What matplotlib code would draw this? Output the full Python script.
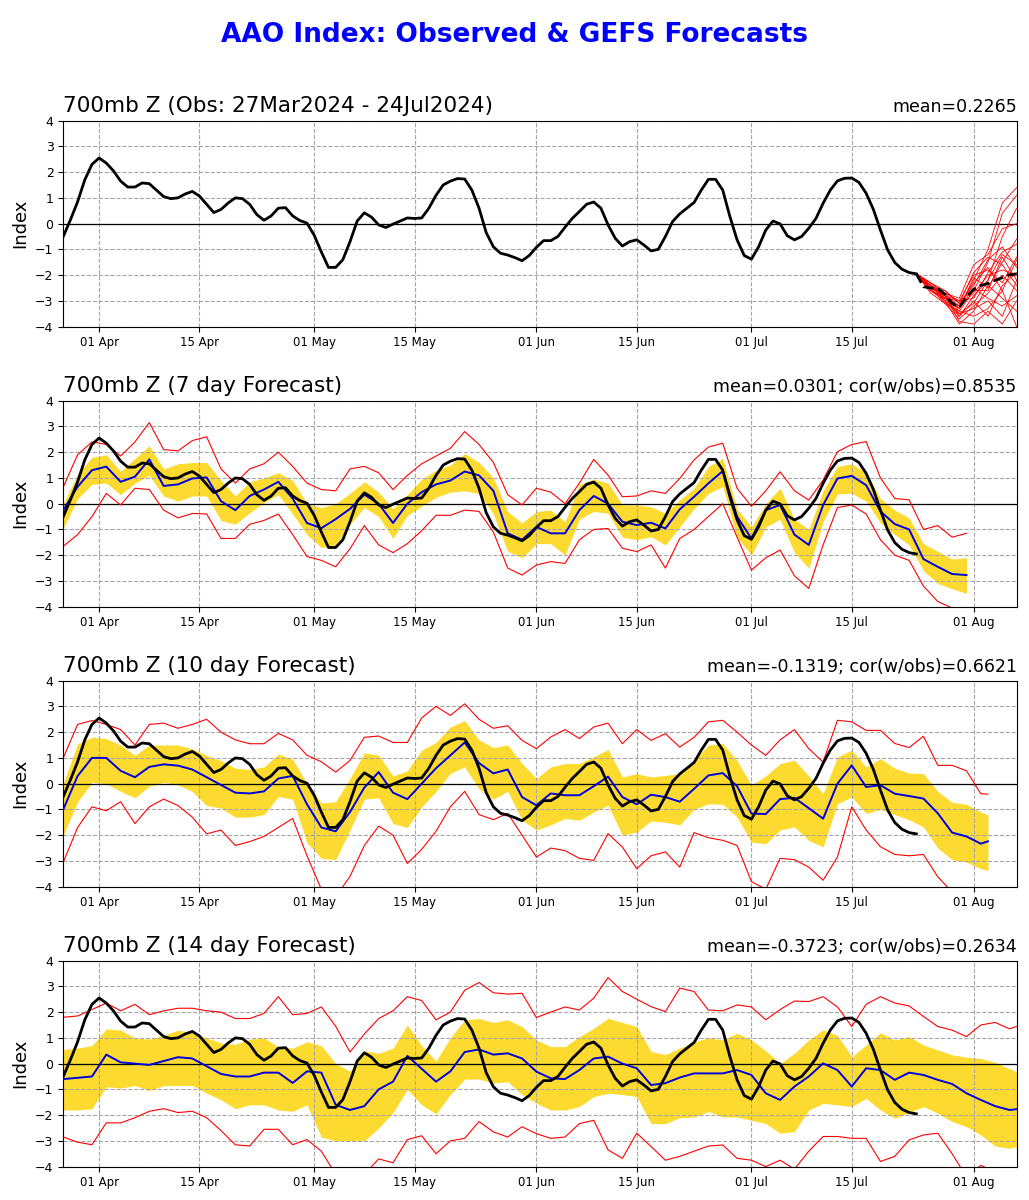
"""
AAO index: observed values and GEFS forecasts.
"""
import numpy as np
import matplotlib
matplotlib.use("Agg")
import matplotlib.pyplot as plt
import matplotlib.dates as mdates

START = np.datetime64("2024-03-27")
LAST_DAY = 133

# observed index, one value per day from 27 Mar to 24 Jul
obs = [-0.5, 0.15, 0.85, 1.7, 2.3, 2.55, 2.35, 2.05, 1.65, 1.42,
       1.42, 1.58, 1.55, 1.3, 1.05, 0.97, 1.0, 1.15, 1.25, 1.07,
       0.75, 0.43, 0.55, 0.8, 1.0, 0.97, 0.75, 0.35, 0.13, 0.3,
       0.6, 0.62, 0.3, 0.12, 0.02, -0.45, -1.1, -1.7, -1.7, -1.4,
       -0.7, 0.1, 0.42, 0.25, -0.05, -0.15, -0.02, 0.1, 0.22, 0.2,
       0.22, 0.6, 1.1, 1.5, 1.65, 1.75, 1.73, 1.3, 0.6, -0.35,
       -0.9, -1.15, -1.22, -1.32, -1.44, -1.24, -0.92, -0.66, -0.66, -0.5,
       -0.14, 0.2, 0.47, 0.75, 0.84, 0.6, -0.05, -0.57, -0.87, -0.7,
       -0.63, -0.83, -1.06, -1.0, -0.5, 0.08, 0.38, 0.6, 0.82, 1.3,
       1.72, 1.72, 1.3, 0.27, -0.63, -1.24, -1.38, -0.9, -0.25, 0.1,
       -0.01, -0.47, -0.63, -0.5, -0.18, 0.2, 0.79, 1.3, 1.66, 1.76,
       1.77, 1.6, 1.18, 0.56, -0.25, -1.02, -1.51, -1.77, -1.9, -1.95]

# GEFS ensemble from 24 Jul (every second day) and its mean (daily)
ens_days = [119, 121, 123, 125, 127, 129, 131, 133]
ens_members = [
    [-1.95, -2.4, -2.9, -3.2, -2.2, -1.0, 0.8, 1.4],
    [-1.95, -2.5, -2.8, -3.4, -2.6, -1.5, 0.4, 1.1],
    [-1.95, -2.3, -2.7, -2.9, -1.6, -1.2, -0.2, 0.0],
    [-1.95, -2.6, -3.0, -3.6, -2.8, -2.2, -1.2, -1.6],
    [-1.95, -2.4, -2.8, -3.0, -2.0, -1.8, -2.3, -1.3],
    [-1.95, -2.5, -3.1, -3.7, -3.2, -2.7, -2.0, -2.6],
    [-1.95, -2.3, -2.6, -3.1, -2.4, -1.4, -0.9, -1.7],
    [-1.95, -2.6, -2.9, -3.5, -3.3, -3.0, -3.6, -2.2],
    [-1.95, -2.5, -2.7, -3.3, -2.1, -2.5, -1.5, -0.6],
    [-1.95, -2.4, -3.0, -3.9, -3.4, -2.4, -2.9, -3.4],
    [-1.95, -2.5, -2.8, -3.2, -2.7, -2.0, -1.8, -2.0],
    [-1.95, -2.7, -3.1, -3.4, -3.6, -3.3, -2.6, -4.0],
    [-1.95, -2.4, -2.9, -3.0, -2.9, -1.9, -1.1, -0.8],
    [-1.95, -2.3, -2.8, -3.6, -3.0, -3.6, -2.4, -1.9],
    [-1.95, -2.6, -2.9, -3.3, -2.5, -2.9, -3.2, -2.8],
    [-1.95, -2.5, -2.6, -3.1, -1.9, -1.3, -1.6, -2.4],
    [-1.95, -2.4, -3.0, -3.5, -3.1, -2.2, -0.5, 0.6],
    [-1.95, -2.5, -2.8, -3.8, -3.9, -3.4, -3.9, -3.0],
    [-1.95, -2.6, -2.9, -3.2, -2.3, -1.7, -2.6, -1.4],
    [-1.95, -2.4, -2.7, -3.0, -2.6, -2.6, -1.3, -2.2],
]
ens_mean = [-1.95, -2.45, -2.5, -2.51, -2.75, -3.1, -3.25, -2.85,
            -2.55, -2.4, -2.33, -2.2, -2.1, -1.99, -1.95]

# 7 day forecasts, every second day from 27 Mar to 31 Jul
mean7 = [-0.25, 0.66, 1.3, 1.44, 0.85, 1.05, 1.72, 0.69, 0.75, 0.98, 1.02, 0.1,
         -0.25, 0.3, 0.55, 0.85, 0.2, -0.75, -0.95, -0.6, -0.2, 0.35, 0.0, -0.75,
         0.0, 0.45, 0.75, 0.9, 1.25, 1.1, 0.5, -1.15,
         -1.4, -0.9, -1.15, -1.15, -0.25, 0.3, 0.0, -0.7, -0.83, -0.74, -0.96, -0.22,
         0.27, 0.79, 1.27, -0.5, -1.35, -0.25, -0.05, -1.2, -1.6, -0.05, 0.98, 1.08,
         0.72, -0.3, -0.79, -1.0, -2.15, -2.45, -2.73, -2.77]
upper7 = [0.0, 1.15, 1.8, 1.9, 1.25, 1.75, 2.25, 1.35, 1.55, 1.6, 1.6, 0.9,
          0.3, 0.85, 1.0, 1.2, 0.9, 0.0, -0.15, 0.0, 0.4, 0.85, 0.45, -0.2,
          0.35, 0.95, 1.3, 1.5, 1.95, 1.6, 1.0, -0.3,
          -0.75, -0.3, -0.25, -0.7, 0.75, 0.95, 0.8, -0.05, -0.05, -0.12, -0.37, 0.15,
          0.6, 1.44, 1.76, -0.2, -0.9, 0.0, 0.6, -0.6, -1.0, 0.5, 1.45, 1.55,
          1.2, 0.2, -0.25, -0.55, -1.55, -1.85, -2.15, -2.1]
lower7 = [-0.95, 0.2, 0.75, 0.8, 0.35, 0.8, 1.1, 0.3, 0.1, 0.3, 0.3, -0.65,
          -0.8, -0.35, 0.05, 0.35, -0.4, -1.2, -1.7, -1.6, -0.8, -0.15, -0.5, -1.35,
          -0.45, -0.1, 0.25, 0.45, 0.5, 0.4, -0.4, -1.85,
          -2.1, -1.55, -1.55, -2.0, -0.6, -0.3, -0.37, -1.3, -1.4, -1.28, -1.6, -0.9,
          -0.2, 0.4, 0.66, -1.3, -2.0, -0.9, -0.6, -1.9, -2.5, -0.7, 0.38, 0.4,
          0.1, -0.75, -1.2, -1.6, -2.6, -3.1, -3.3, -3.48]
max7 = [0.65, 1.9, 2.4, 2.3, 1.85, 2.4, 3.15, 2.1, 2.05, 2.45, 2.6, 1.35,
        0.8, 1.35, 1.55, 2.0, 1.45, 0.8, 0.55, 0.5, 1.35, 1.45, 1.2, 0.55,
        1.1, 1.55, 1.85, 2.15, 2.8, 2.3, 1.6, 0.35,
        -0.05, 0.6, 0.45, 0.0, 0.8, 1.72, 1.11, 0.27, 0.3, 0.5, 0.4, 0.98,
        1.7, 2.2, 2.35, 0.6, -0.1, 0.5, 1.24, 0.5, 0.14, 0.92, 2.02, 2.3,
        2.41, 1.0, 0.2, 0.15, -1.0, -0.85, -1.3, -1.15]
min7 = [-1.65, -1.2, -0.5, 0.4, -0.05, 0.6, 0.55, -0.25, -0.55, -0.38, -0.4, -1.35,
        -1.35, -0.8, -0.65, -0.4, -1.2, -2.05, -2.2, -2.45, -1.75, -0.85, -1.6, -1.9,
        -1.55, -1.05, -0.45, -0.45, -0.25, -0.3, -1.1, -2.5,
        -2.77, -2.38, -2.25, -2.32, -1.4, -1.0, -0.96, -1.73, -1.86, -1.6, -2.5, -1.35,
        -1.0, -0.5, 0.0, -1.3, -2.58, -2.1, -1.8, -2.8, -3.29, -1.6, -0.15, -0.05,
        -0.4, -1.4, -2.0, -2.2, -3.2, -3.8, -4.05, -4.3]

# 10 day forecasts, every second day from 27 Mar, last one 03 Aug
mean10 = [-1.0, 0.3, 1.0, 1.0, 0.5, 0.25, 0.65, 0.75, 0.7, 0.55, 0.25, -0.05,
          -0.35, -0.38, -0.3, 0.2, 0.3, -0.8, -1.7, -1.85, -1.1, -0.15, 0.45, -0.35,
          -0.6, 0.0, 0.6, 1.1, 1.6, 0.8, 0.4, 0.55,
          -0.52, -0.84, -0.38, -0.45, -0.45, -0.1, 0.27, -0.52, -0.8, -0.43, -0.52, -0.7,
          -0.2, 0.32, 0.41, -0.1, -1.16, -1.18, -0.6, -0.55, -0.95, -1.36, 0.0, 0.71,
          -0.13, -0.06, -0.39, -0.48, -0.58, -1.15, -1.9, -2.05, -2.33, -2.24]
upper10 = [0.0, 1.55, 1.8, 1.75, 1.5, 1.1, 1.5, 1.5, 1.5, 1.35, 1.1, 0.9,
           0.6, 0.55, 0.65, 1.15, 0.95, 0.0, -0.75, -0.7, 0.2, 1.2, 1.1, 0.3,
           0.5, 1.3, 1.6, 2.2, 2.45, 1.7, 1.4, 1.5,
           0.78, 0.2, 0.65, 0.78, 0.78, 1.04, 1.33, 0.26, 0.39, 0.26, 0.32, 0.39,
           0.91, 1.5, 1.56, 0.9, -0.06, 0.3, 0.78, 0.91, 0.3, -0.39, 1.04, 1.3,
           0.65, 0.97, 0.6, 0.41, 0.39, -0.3, -0.73, -0.8, -1.1, -1.22]
lower10 = [-2.0, -0.7, 0.05, 0.0, -0.3, -0.55, -0.1, 0.05, -0.05, -0.3, -0.85, -0.95,
           -1.3, -1.3, -1.2, -0.5, -0.6, -2.3, -2.9, -2.95, -1.8, -0.6, -0.55, -1.55,
           -1.7, -0.9, -0.3, 0.4, 0.65, -0.2, -0.6, -0.3,
           -1.42, -1.8, -1.6, -1.35, -1.42, -1.1, -0.84, -2.0, -1.88, -1.45, -1.5, -1.6,
           -1.0, -0.78, -0.8, -1.3, -2.27, -2.33, -1.8, -1.68, -2.2, -2.46, -0.78, -0.52,
           -1.16, -1.0, -1.2, -1.4, -1.68, -2.5, -2.95, -3.05, -3.3, -3.37]
max10 = [1.0, 2.3, 2.45, 2.3, 2.1, 1.5, 2.3, 2.35, 2.15, 2.3, 2.5, 2.0,
         1.7, 1.55, 1.55, 1.95, 1.7, 1.1, 0.85, 0.45, 0.9, 1.8, 1.85, 1.6,
         1.6, 2.55, 3.0, 2.65, 3.1, 2.5, 2.15, 2.25,
         1.68, 1.36, 1.81, 2.1, 1.75, 2.2, 2.35, 1.55, 2.1, 1.68, 1.94, 1.42,
         1.8, 2.4, 2.46, 2.0, 1.5, 1.1, 1.7, 2.1, 1.36, 0.84, 2.46, 2.4,
         2.07, 2.07, 1.56, 1.4, 1.84, 0.71, 0.71, 0.5, -0.39, -0.41]
min10 = [-3.05, -1.7, -0.9, -1.05, -0.7, -1.55, -0.9, -0.6, -0.85, -1.3, -1.95, -1.8,
         -2.4, -2.25, -2.05, -1.7, -1.35, -2.8, -4.1, -4.4, -3.6, -2.4, -1.65, -2.0,
         -3.1, -2.55, -1.85, -0.9, -0.3, -1.2, -1.4, -1.15,
         -2.0, -2.85, -2.5, -2.6, -2.9, -2.98, -1.94, -2.46, -3.3, -2.8, -2.65, -3.24,
         -1.9, -2.1, -2.2, -2.4, -3.8, -4.1, -2.9, -2.95, -3.24, -3.75, -2.85, -0.9,
         -1.8, -2.45, -2.75, -2.8, -2.75, -3.62, -4.2, -4.5, -4.8, -4.9]

# 14 day forecasts, every second day from 27 Mar, last one 07 Aug
mean14 = [-0.6, -0.55, -0.5, 0.35, 0.05, 0.0, -0.05, 0.1, 0.25, 0.2, -0.1, -0.4,
          -0.5, -0.5, -0.35, -0.35, -0.75, -0.3, -0.35, -1.6, -1.8, -1.65, -1.0, -0.7,
          0.3, -0.2, -0.7, -0.3, 0.45, 0.55, 0.35, 0.4,
          0.2, -0.31, -0.57, -0.6, -0.25, 0.2, 0.27, 0.0, -0.18, -0.83, -0.76, -0.54,
          -0.38, -0.38, -0.38, -0.25, -0.44, -1.15, -1.41, -0.89, -0.5, 0.01, -0.25, -0.89,
          -0.18, -0.25, -0.63, -0.35, -0.44, -0.63, -0.79, -1.15, -1.41, -1.65, -1.8, -1.77]
upper14 = [0.55, 0.6, 0.7, 1.35, 1.3, 1.0, 0.95, 1.1, 1.3, 1.2, 1.0, 0.8,
           0.75, 0.95, 1.0, 0.65, 0.6, 0.85, 0.7, 0.0, -0.3, 0.5, 0.4, 0.6,
           1.5, 0.7, 0.1, 1.0, 1.7, 1.75, 1.6, 1.7,
           1.44, 0.92, 0.66, 0.66, 1.05, 1.37, 1.76, 1.6, 1.44, 0.47, 0.35, 0.6,
           0.85, 1.0, 0.92, 1.18, 0.92, 0.5, 0.0, 0.4, 0.92, 1.31, 1.1, 0.27,
           0.72, 1.2, 0.92, 1.05, 0.72, 0.53, 0.34, 0.25, 0.2, 0.05, -0.2, -0.31]
lower14 = [-1.8, -1.8, -1.75, -0.9, -0.95, -0.85, -1.05, -0.85, -0.85, -0.85, -1.15, -1.4,
           -1.75, -1.6, -1.6, -1.8, -1.85, -1.6, -2.85, -3.0, -3.0, -3.0, -2.5, -1.9,
           -1.0, -1.6, -1.95, -1.2, -0.6, -0.6, -0.75, -0.7,
           -1.2, -1.54, -1.8, -1.8, -1.67, -1.28, -1.15, -1.2, -1.28, -2.33, -2.33, -2.1,
           -2.07, -1.86, -2.07, -2.07, -2.2, -2.33, -2.7, -2.64, -1.8, -1.54, -1.6, -1.67,
           -1.35, -1.8, -2.12, -1.9, -1.67, -1.93, -2.25, -2.45, -2.77, -3.2, -3.29, -3.22]
max14 = [1.8, 1.85, 2.1, 2.35, 2.05, 2.3, 1.9, 2.05, 2.15, 2.15, 2.05, 2.0,
         1.75, 1.75, 1.95, 2.6, 1.9, 1.95, 2.2, 1.45, 0.45, 1.15, 1.75, 2.05,
         2.6, 2.45, 1.7, 2.0, 2.85, 3.15, 2.75, 2.7,
         2.73, 1.79, 2.0, 2.2, 2.08, 2.54, 3.34, 2.8, 2.5, 2.21, 2.02, 2.93,
         2.8, 2.08, 2.05, 2.28, 2.2, 1.7, 2.1, 2.43, 2.41, 2.6, 2.2, 1.44,
         2.3, 2.6, 2.35, 2.24, 1.83, 1.44, 1.3, 1.05, 1.5, 1.6, 1.35, 1.44]
min14 = [-2.85, -3.05, -3.15, -2.3, -2.3, -2.1, -1.85, -1.75, -1.9, -1.85, -2.1, -2.6,
         -3.15, -3.2, -2.55, -2.55, -3.15, -2.95, -3.4, -4.3, -4.5, -4.3, -3.7, -3.85,
         -2.95, -2.8, -3.5, -3.0, -2.9, -2.25, -2.65, -2.85,
         -2.45, -2.72, -2.9, -2.85, -2.33, -2.2, -3.35, -3.68, -2.7, -3.22, -3.75, -3.6,
         -3.4, -3.2, -3.16, -3.68, -3.75, -4.0, -3.75, -4.1, -3.4, -2.83, -2.83, -2.9,
         -2.9, -3.8, -3.6, -2.96, -2.77, -2.7, -3.5, -4.4, -3.95, -4.2, -4.5, -4.6]

titles = ["700mb Z (Obs: 27Mar2024 - 24Jul2024)", "700mb Z (7 day Forecast)",
          "700mb Z (10 day Forecast)", "700mb Z (14 day Forecast)"]
stats = ["mean=0.2265", "mean=0.0301; cor(w/obs)=0.8535",
         "mean=-0.1319; cor(w/obs)=0.6621", "mean=-0.3723; cor(w/obs)=0.2634"]
leads = [7, 10, 14]


def to_dates(days):
    return START + np.array(days).astype("timedelta64[D]")


def forecast_days(lead):
    # every second day, plus the last forecast date
    last = 119 + lead
    days = list(range(0, last + 1, 2))
    if days[-1] != last:
        days.append(last)
    return days


def style_axis(ax, title, stat):
    ax.axhline(0, color="black", linewidth=0.9, zorder=1.6)
    ax.set_xlim(to_dates([0])[0], to_dates([LAST_DAY])[0])
    ax.set_ylim(-4, 4)
    ax.set_yticks(range(-4, 5))
    ax.xaxis.set_major_locator(mdates.DayLocator(bymonthday=[1, 15]))
    ax.xaxis.set_major_formatter(mdates.DateFormatter("%d %b"))
    ax.tick_params(axis="x", labelsize=8.5)
    ax.tick_params(axis="y", labelsize=9)
    ax.grid(True, linestyle="--", color="0.65", linewidth=0.8)
    ax.set_ylabel("Index", fontsize=13)
    ax.set_title(title, loc="left", fontsize=15.5)
    ax.set_title(stat, loc="right", fontsize=12.5)


fig = plt.figure(figsize=(10.29, 12.0), dpi=100)
fig.suptitle("AAO Index: Observed & GEFS Forecasts", color="blue",
             fontsize=19, fontweight="bold", y=0.971, va="center")

bottoms = [0.7278, 0.4944, 0.2611, 0.0278]
axes = [fig.add_axes([0.0615, b, 0.9265, 0.1717]) for b in bottoms]
obs_dates = to_dates(range(len(obs)))

#observed + ensemble
ax = axes[0]
for member in ens_members:
    ax.plot(to_dates(ens_days), member, color="red", linewidth=0.6, zorder=2)
ax.plot(obs_dates, obs, color="black", linewidth=2, zorder=3)
ax.plot(to_dates(range(119, 119 + len(ens_mean))), ens_mean, color="black",
        linewidth=2, linestyle="--", zorder=4)
style_axis(ax, titles[0], stats[0])

#forecast panels
series = [(mean7, upper7, lower7, max7, min7),
          (mean10, upper10, lower10, max10, min10),
          (mean14, upper14, lower14, max14, min14)]
for ax, lead, (mean, upper, lower, hi, lo), title, stat in zip(
        axes[1:], leads, series, titles[1:], stats[1:]):
    dates = to_dates(forecast_days(lead))
    ax.fill_between(dates, lower, upper, color="#FDDA30", linewidth=0, zorder=1)
    ax.plot(dates, hi, color="red", linewidth=0.8, zorder=2)
    ax.plot(dates, lo, color="red", linewidth=0.8, zorder=2)
    ax.plot(dates, mean, color="#0000DD", linewidth=1.4, zorder=3)
    ax.plot(obs_dates, obs, color="black", linewidth=2, zorder=4)
    style_axis(ax, title, stat)

fig.savefig("out.png", dpi=100)
